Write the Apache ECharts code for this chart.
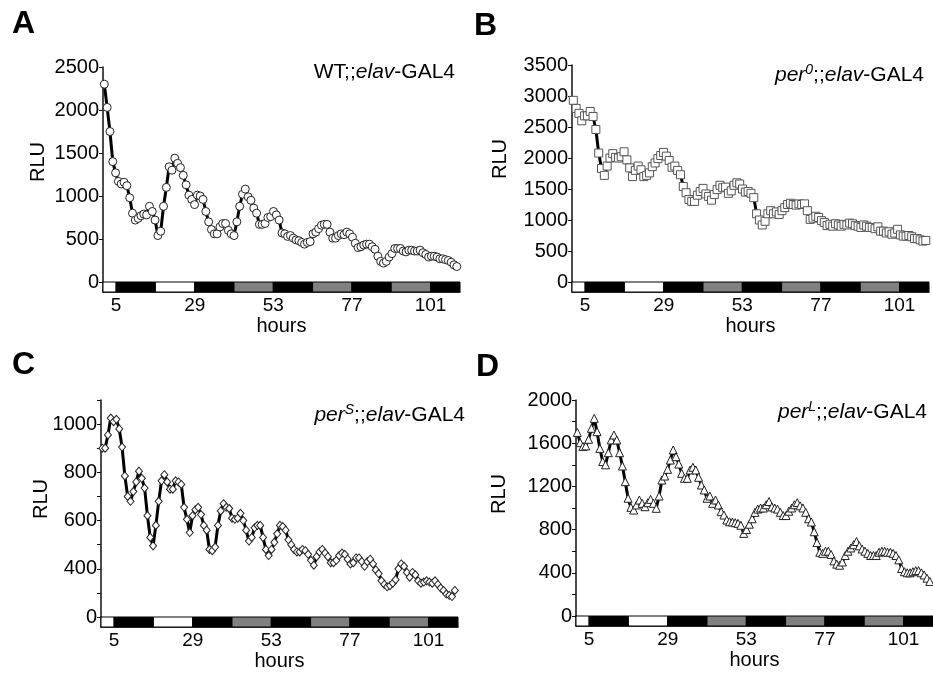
<!DOCTYPE html>
<html><head><meta charset="utf-8">
<script src="https://cdn.jsdelivr.net/npm/echarts@6/dist/echarts.min.js"></script>
<style>html,body{margin:0;padding:0;background:#fff}#c{width:933px;height:675px}</style>
</head><body><div id="c"></div>
<script>
// ---- data ----
const valuesA = [2300,2030,1750,1400,1270,1170,1140,1160,1120,980,
  800,720,740,770,790,780,880,820,720,540,
  590,880,1100,1340,1300,1440,1380,1330,1240,1130,
  1010,960,900,1010,1000,960,820,700,610,560,
  560,640,680,680,600,560,540,700,880,1020,
  1080,990,950,860,800,670,670,680,750,760,
  820,780,720,570,560,530,540,510,490,480,
  460,440,460,470,560,580,620,660,670,670,
  580,510,510,540,560,550,580,560,520,450,
  400,410,430,440,440,410,380,300,240,220,
  240,290,330,390,390,390,360,350,370,370,
  360,360,370,340,320,290,300,300,290,270,
  270,260,250,230,200,180];
const valuesB = [2930,2800,2720,2600,2680,2680,2750,2670,2460,2080,
  1830,1720,1870,2000,2070,2010,2000,2020,2100,1970,
  1840,1700,1800,1870,1810,1700,1720,1760,1860,1920,
  1990,2040,2090,2030,1960,1850,1870,1800,1730,1540,
  1440,1330,1300,1300,1400,1460,1510,1420,1380,1320,
  1410,1490,1560,1520,1530,1430,1470,1560,1600,1580,
  1500,1450,1460,1430,1360,1100,1000,920,980,1100,
  1150,1100,1130,1090,1150,1200,1250,1270,1250,1240,
  1260,1250,1260,1150,1010,1030,1060,1040,990,960,
  910,930,900,940,920,900,930,920,950,940,
  910,900,880,920,900,880,880,860,890,820,
  820,790,810,770,790,850,760,740,740,750,
  730,700,700,680,660,670];
const valuesC = [900,900,955,1025,1010,1020,980,905,785,700,
  680,720,760,805,775,735,620,530,495,580,
  680,765,790,760,730,730,765,760,750,655,
  605,550,620,645,655,625,580,560,480,475,
  490,580,640,670,655,650,610,605,610,630,
  600,560,515,530,570,580,580,530,480,455,
  480,510,545,580,575,560,520,500,480,470,
  470,480,475,460,435,415,450,470,480,465,
  450,425,425,435,455,465,460,440,420,425,
  445,445,430,410,430,440,420,395,380,350,
  335,325,330,340,355,400,420,410,385,365,
  385,375,350,340,345,350,345,340,350,335,
  320,310,295,290,285,310];
const valuesD = [1700,1605,1570,1575,1636,1738,1830,1707,1552,1430,
  1400,1512,1630,1676,1630,1512,1389,1244,1090,1006,
  981,1028,1074,1043,1012,1049,1080,1043,997,1111,
  1259,1296,1358,1444,1537,1475,1407,1321,1275,1275,
  1352,1377,1352,1284,1213,1167,1090,1111,1043,1074,
  1028,966,935,889,873,870,864,858,840,765,
  800,850,900,960,990,1000,1000,1030,1060,1010,
  1000,990,960,930,930,970,1000,1030,1050,1020,
  1000,960,900,870,780,680,590,580,600,600,
  570,510,480,470,500,560,600,630,660,690,
  650,620,600,580,560,560,560,590,600,600,
  590,590,580,560,520,440,410,400,400,410,
  420,420,400,380,350,320];
// recording time base (hours): first sample and sampling interval
const SAMPLE_T0 = 1.4;
const SAMPLE_DT = 0.861;
const xTickLabels = [5, 29, 53, 77, 101];
const xRange = [1, 110];
// light regime bar: segment starts/ends (hours) and state
const lightStart = [1, 5, 17, 29, 41, 53, 65, 77, 89, 101];
const lightEnd   = [5, 17, 29, 41, 53, 65, 77, 89, 101, 110];
const lightState = ['L', 'D', 'L', 'D', 'S', 'D', 'S', 'D', 'S', 'D'];

// ---- chart ----
const FONT = '"Liberation Sans", Arial, Helvetica, sans-serif';
const stateColor = {L: '#ffffff', D: '#000000', S: '#808080'};
const toPairs = vals => vals.map((v, i) => [SAMPLE_T0 + i * SAMPLE_DT, v]);
const barData = lightStart.map((s, i) => [s, lightEnd[i], i]);

const panels = [
  {vals: valuesA, left: 103, top: 67, h: 215, yMin: 0, yMax: 2500, yInt: 500, minor: false,
   symbol: 'circle', size: 8, border: '#222',
   letter: 'A', lx: 12, ly: 24.5, rluX: 38, rluY: 162,
   title: '{n|WT;;}{i|elav}{n|-GAL4}', tRight: 478, tCy: 72.5},
  {vals: valuesB, left: 572, top: 65, h: 217, yMin: 0, yMax: 3500, yInt: 500, minor: false,
   symbol: 'rect', size: 8, border: '#555',
   letter: 'B', lx: 474, ly: 26, rluX: 500, rluY: 159,
   title: '{i|per}{s|0}{n|;;}{i|elav}{n|-GAL4}', tRight: 9, tCy: 75},
  {vals: valuesC, left: 101, top: 400, h: 217, yMin: 200, yMax: 1100, yInt: 200, minor: true, zeroAt: 200,
   symbol: 'diamond', size: [7, 8], border: '#222',
   letter: 'C', lx: 12, ly: 365, rluX: 41, rluY: 499,
   title: '{i|per}{s|S}{n|;;}{i|elav}{n|-GAL4}', tRight: 468, tCy: 415},
  {vals: valuesD, left: 576, top: 400, h: 216, yMin: 0, yMax: 2000, yInt: 400, minor: true,
   symbol: 'triangle', size: 8, border: '#222',
   letter: 'D', lx: 476, ly: 367, rluX: 499, rluY: 494,
   title: '{i|per}{s|L}{n|;;}{i|elav}{n|-GAL4}', tRight: 6, tCy: 412}
];

const W = 357, BAR_H = 10;
const grid = [], xAxis = [], yAxis = [], series = [], title = [], graphic = [];
const richTitle = {
  n: {fontSize: 21, fontFamily: FONT, color: '#000', lineHeight: 24},
  i: {fontSize: 21, fontFamily: FONT, fontStyle: 'italic', color: '#000', lineHeight: 24},
  s: {fontSize: 14, fontFamily: FONT, fontStyle: 'italic', color: '#000', lineHeight: 10, verticalAlign: 'top'}
};

panels.forEach((p, k) => {
  const gMain = 2 * k, gBar = 2 * k + 1;
  grid.push({left: p.left, top: p.top, width: W, height: p.h});
  grid.push({left: p.left, top: p.top + p.h, width: W, height: BAR_H});
  xAxis.push({gridIndex: gMain, type: 'value', min: xRange[0], max: xRange[1], show: false});
  xAxis.push({gridIndex: gBar, type: 'value', min: xRange[0], max: xRange[1],
    axisLine: {show: true, lineStyle: {color: '#000', width: 1.5}},
    axisTick: {show: false}, splitLine: {show: false},
    axisLabel: {customValues: xTickLabels, fontSize: 19, fontFamily: FONT, color: '#000', margin: 4},
    name: 'hours', nameLocation: 'middle', nameGap: 24,
    nameTextStyle: {fontSize: 20, fontFamily: FONT, color: '#000'}});
  yAxis.push({gridIndex: gMain, type: 'value', min: p.yMin, max: p.yMax, interval: p.yInt,
    axisLine: {show: true, lineStyle: {color: '#111', width: 1.5}},
    axisTick: {show: true, length: 4, lineStyle: {color: '#111', width: 1}},
    minorTick: {show: p.minor, splitNumber: 2, length: 4, lineStyle: {color: '#111', width: 1}},
    splitLine: {show: false},
    axisLabel: {fontSize: 20, fontFamily: FONT, color: '#000', margin: 4,
      formatter: v => {
        if (p.zeroAt !== undefined && v === p.zeroAt) return '0';
        if (v > p.yMax - 1e-9 && (p.yMax - p.yMin) % p.yInt !== 0) return '';
        return String(v);
      }}});
  yAxis.push({gridIndex: gBar, type: 'value', min: 0, max: 1,
    axisLine: {show: true, lineStyle: {color: '#111', width: 1.5}},
    axisTick: {show: false}, axisLabel: {show: false}, splitLine: {show: false}});

  series.push({type: 'line', xAxisIndex: gMain, yAxisIndex: gMain, data: toPairs(p.vals),
    symbol: p.symbol, symbolSize: p.size, showAllSymbol: true,
    lineStyle: {color: '#000', width: 3},
    itemStyle: {color: '#fff', borderColor: p.border, borderWidth: 1},
    emphasis: {disabled: true}, silent: true, animation: false, z: 3});
  series.push({type: 'custom', xAxisIndex: gBar, yAxisIndex: gBar, data: barData,
    silent: true, animation: false,
    renderItem: (params, api) => {
      const a = api.coord([api.value(0), 1]);
      const b = api.coord([api.value(1), 0]);
      return {type: 'rect', shape: {x: a[0], y: a[1], width: b[0] - a[0], height: b[1] - a[1]},
        style: {fill: stateColor[lightState[api.value(2)]], stroke: '#000', lineWidth: 1}};
    }});

  title.push({text: p.letter, left: p.lx, top: p.ly - 16, padding: 0,
    textStyle: {fontSize: 32, fontWeight: 'bold', fontFamily: FONT, color: '#000', lineHeight: 32}});
  title.push({text: p.title, right: p.tRight, top: p.tCy - 12, padding: 0,
    textStyle: {fontSize: 21, fontWeight: 'normal', fontFamily: FONT, color: '#000', rich: richTitle}});
  graphic.push({type: 'text', x: p.rluX, y: p.rluY, rotation: Math.PI / 2,
    style: {text: 'RLU', fontSize: 20, fontFamily: FONT, fill: '#000',
      textAlign: 'center', textVerticalAlign: 'middle', align: 'center', verticalAlign: 'middle'}});
});

const chart = echarts.init(document.getElementById('c'), null, {renderer: 'canvas'});
chart.setOption({animation: false, backgroundColor: '#fff', grid, xAxis, yAxis, series, title, graphic});
</script></body></html>
